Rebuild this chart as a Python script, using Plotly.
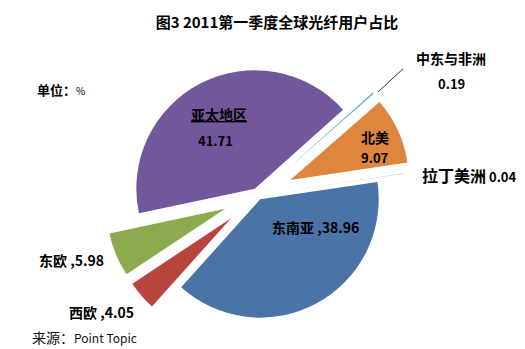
import plotly.graph_objects as go

# Data
labels = ["亚太地区", "中东与非洲", "北美", "拉丁美洲", "东南亚", "西欧", "东欧"]
values = [41.71, 0.19, 9.07, 0.04, 38.96, 4.05, 5.98]
colors = ["#72589a", "#5aa8c8", "#de863e", "#4a9ab8", "#4a73a8", "#b8463f", "#8bab4e"]
pulls = [0.06, 0.30, 0.30, 0.25, 0.04, 0.30, 0.30]

title_text = "图3 2011第一季度全球光纤用户占比"
unit_label = "单位："
unit_sym = "%"
source_label = "来源："
source_name = "Point Topic"

W, H = 525, 349
FONT = "Noto Sans CJK SC, Noto Sans, sans-serif"


def px(x):
    return x / W


def py(y):
    return 1 - y / H


fig = go.Figure()
fig.add_trace(go.Pie(
    labels=labels,
    values=values,
    sort=False,
    direction="clockwise",
    rotation=258,
    pull=pulls,
    marker=dict(colors=colors, line=dict(width=0)),
    textinfo="none",
    hoverinfo="label+value",
    showlegend=False,
    domain=dict(x=[px(58), px(458)], y=[0, py(41)]),
))

ann = []


def add(x, y, text, size=13, xanchor="center", color="#000"):
    ann.append(dict(x=px(x), y=py(y), xref="paper", yref="paper", text=text,
                    showarrow=False, xanchor=xanchor, yanchor="middle",
                    font=dict(family=FONT, size=size, color=color)))


# slice labels
add(219, 114, f"<u><b>{labels[0]}</b></u>", 14)
add(215, 140, f"<b>{values[0]:.2f}</b>", 13)
add(451, 58, f"<b>{labels[1]}</b>", 14)
add(451, 84, f"<b>{values[1]:.2f}</b>", 13)
add(375, 137, f"<b>{labels[2]}</b>", 14)
add(375, 157, f"<b>{values[2]:.2f}</b>", 13)
add(469, 175, f"<b><span style='font-size:16px'>{labels[3]}</span> {values[3]:.2f}</b>", 13)
add(315, 227, f"<b>{labels[4]} ,{values[4]:.2f}</b>", 14)
add(101, 312, f"<b>{labels[5]} ,{values[5]:.2f}</b>", 14)
add(71, 260, f"<b>{labels[6]} ,{values[6]:.2f}</b>", 14)

# unit and source
add(35, 90, f"<b>{unit_label}</b><span style='font-size:10px'>{unit_sym}</span>", 13, xanchor="left")
add(30, 337, f"{source_label}<span style='font-size:12px;'>{source_name}</span>", 14, xanchor="left", color="#111")

# leader line for 中东与非洲
ann.append(dict(x=px(378), y=py(92), xref="paper", yref="paper", text=" ",
                showarrow=True, arrowhead=0, arrowwidth=1, arrowcolor="#333",
                ax=27, ay=-25, standoff=0, startstandoff=0,
                font=dict(size=2)))

fig.update_layout(
    width=W, height=H,
    margin=dict(l=0, r=0, t=0, b=0),
    paper_bgcolor="white",
    plot_bgcolor="white",
    title=dict(text=f"<b>{title_text}</b>", x=px(277), y=py(23),
               xanchor="center", yanchor="middle",
               font=dict(family=FONT, size=15, color="#000")),
    annotations=ann,
)

fig.write_html("out.html")
